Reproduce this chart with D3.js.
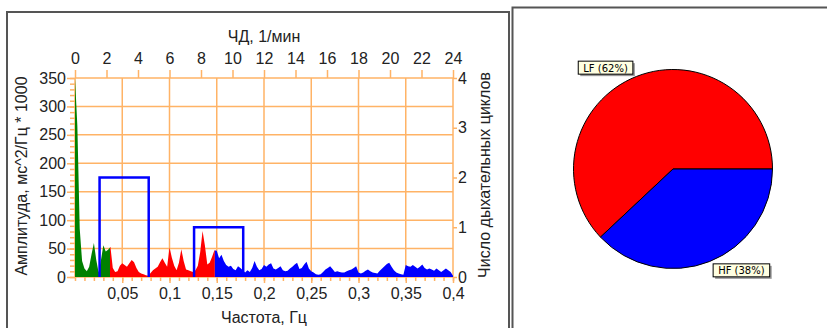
<!DOCTYPE html>
<html>
<head>
<meta charset="utf-8">
<script src="https://cdn.jsdelivr.net/npm/d3@7/dist/d3.min.js"></script>
<style>
  body { margin: 0; background: #fff; }
  svg { display: block; font-family: "Liberation Sans", Arial, sans-serif; }
</style>
</head>
<body>
<svg id="chart" width="827" height="328"></svg>
<script>
// spectrum, one value every 0.0025 Hz from 0 to 0.4 Hz (мс^2/Гц * 1000)
const freqStep = 0.0025;
const spectrum = [
  350, 265, 85, 28, 15, 10, 18, 40, 60, 30, 8, 30, 56, 45, 48, 53,
  16, 9, 10, 20, 24, 21, 18, 24, 30, 26, 16, 9, 6, 5, 3, 2,
  7, 12, 15, 18, 26, 33, 25, 18, 52, 34, 20, 12, 25, 49, 28, 13,
  12, 10, 9, 12, 20, 44, 81, 55, 22, 25, 35, 47, 46,
  33, 39, 28, 21, 18, 20, 14, 12, 19, 16, 12, 8, 12, 9, 16,
  28, 18, 12, 14, 21, 18, 22, 24, 15, 13, 16, 19, 12, 10, 11,
  15, 18, 22, 25, 14, 16, 22, 27, 15, 10, 8, 5, 4, 5, 9,
  13, 16, 19, 14, 9, 10, 9, 8, 8, 10, 12, 13, 16, 19, 8,
  6, 8, 11, 13, 10, 8, 7, 6, 11, 15, 19, 23, 25, 18, 12,
  8, 6, 5, 4, 21, 19, 18, 21, 18, 15, 18, 22, 16, 13, 15,
  13, 11, 15, 12, 9, 12, 15, 12, 9, 2
];

// VLF / LF / HF band edges, Hz
const bandNames = ['VLF', 'LF', 'HF'];
const bandEdges = [0, 0.037, 0.148, 0.4];

// breathing cycles histogram (right axis)
const cycleFrom = [0.026, 0.126];
const cycleTo = [0.078, 0.178];
const cycleCount = [2, 1];

// ticks
const hzTicks = [0.05, 0.1, 0.15, 0.2, 0.25, 0.3, 0.35, 0.4];
const rrTicks = [0, 2, 4, 6, 8, 10, 12, 14, 16, 18, 20, 22, 24];
const ampTicks = [0, 50, 100, 150, 200, 250, 300, 350];
const cycleTicks = [0, 1, 2, 3, 4];

// pie
const pieLabels = ['LF', 'HF'];
const pieValues = [62, 38];

const bandColors = { VLF: '#008000', LF: '#ff0000', HF: '#0000ff' };
const gridColor = '#ffb366';
const fontSize = 16;

const svg = d3.select('#chart');

// panel frames
svg.append('rect').attr('x', 7).attr('y', 12).attr('width', 502).attr('height', 330)
  .attr('fill', 'none').attr('stroke', '#555').attr('stroke-width', 2);
svg.append('rect').attr('x', 512.5).attr('y', 7.5).attr('width', 330).attr('height', 340)
  .attr('fill', 'none').attr('stroke', '#555').attr('stroke-width', 2);

const x = d3.scaleLinear().domain([0, 0.4]).range([75, 453]);
const xTop = d3.scaleLinear().domain([0, 24]).range([75, 453]);
const y = d3.scaleLinear().domain([0, 350]).range([277, 78]);
const yR = d3.scaleLinear().domain([0, 4]).range([277, 78]);

// grid
const grid = svg.append('g').attr('stroke', gridColor).attr('stroke-width', 1.5);
grid.selectAll('line.v')
  .data(d3.range(0, 9).map(i => i * 0.05))
  .enter().append('line')
  .attr('x1', d => x(d)).attr('x2', d => x(d))
  .attr('y1', y(350)).attr('y2', y(0));
grid.selectAll('line.h')
  .data(ampTicks)
  .enter().append('line')
  .attr('x1', x(0)).attr('x2', x(0.4))
  .attr('y1', d => y(d)).attr('y2', d => y(d));

// spectrum, one clipped area per band
const points = spectrum.map((v, i) => ({ f: i * freqStep, v: v }));
const area = d3.area()
  .x(d => x(d.f))
  .y0(y(0))
  .y1(d => y(d.v));

const defs = svg.append('defs');
bandNames.forEach((name, i) => {
  defs.append('clipPath').attr('id', 'clip-' + name)
    .append('rect')
    .attr('x', x(bandEdges[i]))
    .attr('y', 0)
    .attr('width', x(bandEdges[i + 1]) - x(bandEdges[i]))
    .attr('height', y(0));
  svg.append('path')
    .datum(points)
    .attr('clip-path', 'url(#clip-' + name + ')')
    .attr('fill', bandColors[name])
    .attr('d', area);
});

// breathing cycles boxes
svg.append('g').selectAll('path')
  .data(cycleCount)
  .enter().append('path')
  .attr('fill', 'none')
  .attr('stroke', '#0000ff')
  .attr('stroke-width', 2.5)
  .attr('d', (d, i) => 'M' + x(cycleFrom[i]) + ',' + yR(0) +
    'V' + yR(d) + 'H' + x(cycleTo[i]) + 'V' + yR(0));

// axes
function styleAxis(g) {
  g.attr('font-family', null).attr('font-size', fontSize);
  g.select('.domain').remove();
  g.selectAll('.tick line').attr('stroke', gridColor).attr('stroke-width', 1.5);
  g.selectAll('.tick text').attr('fill', '#222');
}

svg.append('g').attr('transform', 'translate(75,0)')
  .call(d3.axisLeft(y).tickValues(d3.range(0, 351, 10)).tickSize(5).tickFormat(''))
  .call(styleAxis);
svg.append('g').attr('transform', 'translate(75,0)')
  .call(d3.axisLeft(y).tickValues(ampTicks).tickSize(8).tickPadding(1))
  .call(styleAxis);

svg.append('g').attr('transform', 'translate(0,277)')
  .call(d3.axisBottom(x).tickValues(d3.range(0, 41).map(i => i / 100)).tickSize(4).tickFormat(''))
  .call(styleAxis);
const ruLocale = d3.formatLocale({ decimal: ',', thousands: ' ', grouping: [3], currency: ['', ''] });
svg.append('g').attr('transform', 'translate(0,277)')
  .call(d3.axisBottom(x).tickValues(hzTicks).tickSize(6).tickPadding(5).tickFormat(ruLocale.format('.2~f')))
  .call(styleAxis);

svg.append('g').attr('transform', 'translate(0,78)')
  .call(d3.axisTop(xTop).tickValues(rrTicks).tickSize(8).tickPadding(6))
  .call(styleAxis);

svg.append('g').attr('transform', 'translate(453,0)')
  .call(d3.axisRight(yR).tickValues(cycleTicks).tickSize(4).tickPadding(1).tickFormat(d3.format('d')))
  .call(styleAxis);

// axis titles
const titles = svg.append('g').attr('font-size', fontSize).attr('fill', '#222').attr('text-anchor', 'middle');
titles.append('text').attr('x', 264).attr('y', 42).text('ЧД, 1/мин');
titles.append('text').attr('x', 264).attr('y', 323).text('Частота, Гц');
titles.append('text').attr('transform', 'translate(27,176) rotate(-90)').text('Амплитуда, мс^2/Гц * 1000');
titles.append('text').attr('transform', 'translate(490,175) rotate(-90)').text('Число дыхательных циклов');

// pie
const cx = 673, cy = 169, r = 99.5;
const startAngle = 2 * Math.PI * (0.25 + pieValues[1] / 100);
const pie = d3.pie().sort(null).startAngle(startAngle).endAngle(startAngle + 2 * Math.PI);
const arcs = pie(pieValues);
const arc = d3.arc().innerRadius(0).outerRadius(r);
const pieG = svg.append('g').attr('transform', 'translate(' + cx + ',' + cy + ')');
pieG.selectAll('path')
  .data(arcs)
  .enter().append('path')
  .attr('d', arc)
  .attr('fill', (d, i) => bandColors[pieLabels[i]])
  .attr('stroke', '#000')
  .attr('stroke-width', 1);

// labels
arcs.forEach((a, i) => {
  const mid = (a.startAngle + a.endAngle) / 2;
  const lx = Math.sin(mid) * 109;
  const ly = -Math.cos(mid) * 109;
  const lab = pieG.append('g');
  const t = lab.append('text')
    .attr('font-family', '"DejaVu Sans", sans-serif')
    .attr('font-size', 10)
    .attr('dominant-baseline', 'central')
    .text(pieLabels[i] + ' (' + pieValues[i] + '%)');
  const w = t.node().getBBox().width + 10;
  const left = lx < 0 ? lx - w : lx;
  t.attr('x', left + 5).attr('y', ly + 0.5);
  lab.insert('rect', 'text').attr('x', left + 2).attr('y', ly - 4.5).attr('width', w).attr('height', 13)
    .attr('fill', '#999');
  lab.insert('rect', 'text').attr('x', left).attr('y', ly - 6.5).attr('width', w).attr('height', 13)
    .attr('fill', '#ffffe1').attr('stroke', '#000').attr('stroke-width', 1);
});
</script>
</body>
</html>
